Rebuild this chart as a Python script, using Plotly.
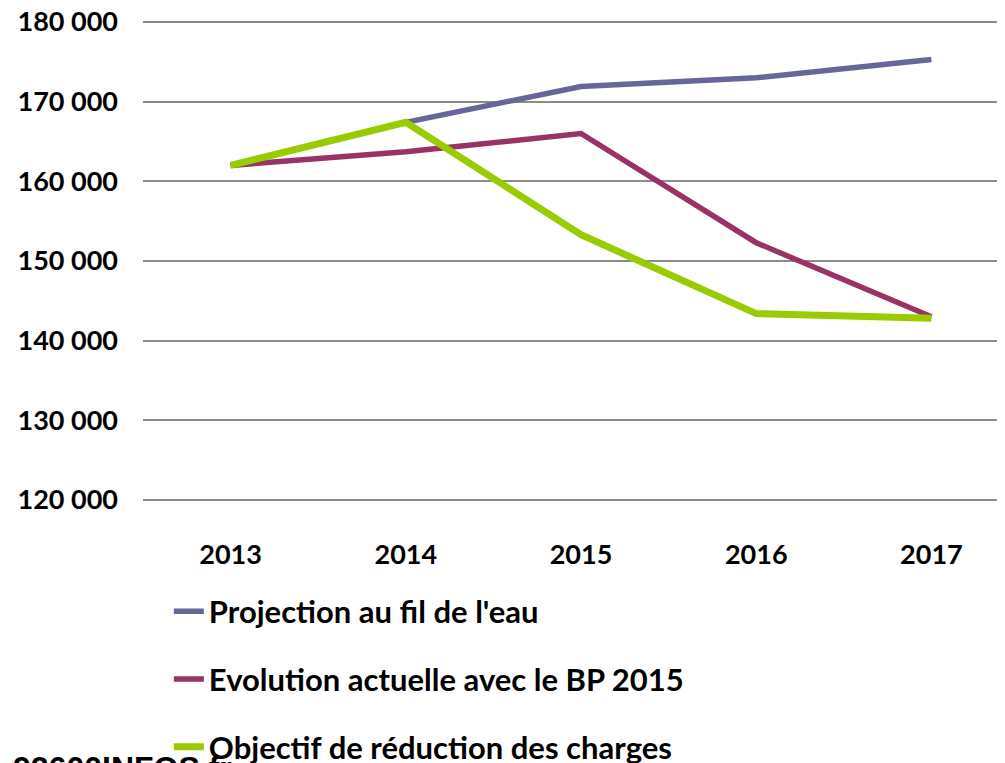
import plotly.graph_objects as go

years = ["2013", "2014", "2015", "2016", "2017"]
projection = [162000, 167400, 171900, 173000, 175300]
evolution = [162000, 163700, 166000, 152300, 143000]
objectif = [162000, 167400, 153300, 143400, 142800]

names = [
    "Projection au fil de l'eau",
    "Evolution actuelle avec le BP 2015",
    "Objectif de réduction des charges",
]
colors = ["#666699", "#993366", "#99CC00"]
widths = [5.5, 5.5, 7]

fig = go.Figure()
for i, (name, vals) in enumerate(zip(names, [projection, evolution, objectif])):
    fig.add_trace(go.Scatter(
        x=years, y=vals, mode="lines", name=name, legendgroup=str(i),
        line=dict(color=colors[i], width=widths[i]),
    ))

# page body has an 8px margin, so the figure is a bit smaller and shifted
fig.update_layout(
    width=997, height=755,
    margin=dict(l=135, r=0, t=12, b=261, autoexpand=False),
    plot_bgcolor="white", paper_bgcolor="white",
    font=dict(family="Lato", size=27, color="black", weight="bold"),
    separators=", ",
    showlegend=True,
    legend=dict(
        x=0.030, y=-0.1714, xanchor="left", yanchor="top",
        orientation="v", tracegroupgap=24.5,
        font=dict(family="Lato", size=31, color="black", weight="bold"),
        bgcolor="rgba(0,0,0,0)",
    ),
)

fig.update_xaxes(
    type="category", range=[-0.5, 4.42], automargin=False,
    showgrid=False, showline=False, zeroline=False,
    ticks="", ticklabelstandoff=34,
)
fig.update_yaxes(
    range=[119750, 180250], tickvals=[120000, 130000, 140000, 150000, 160000, 170000, 180000],
    tickformat=",d", automargin=False, ticklabeloverflow="allow",
    showgrid=True, gridcolor="#8c8c8c", gridwidth=2,
    showline=False, zeroline=False, ticks="", ticklabelstandoff=24,
)

fig.add_annotation(
    text="92600INFOS.fr", xref="paper", yref="paper",
    x=-0.1537, y=-0.510, xanchor="left", yanchor="top", showarrow=False,
    font=dict(family="Liberation Sans", size=32, color="black", weight="bold"),
)

fig.write_html("out.html")
